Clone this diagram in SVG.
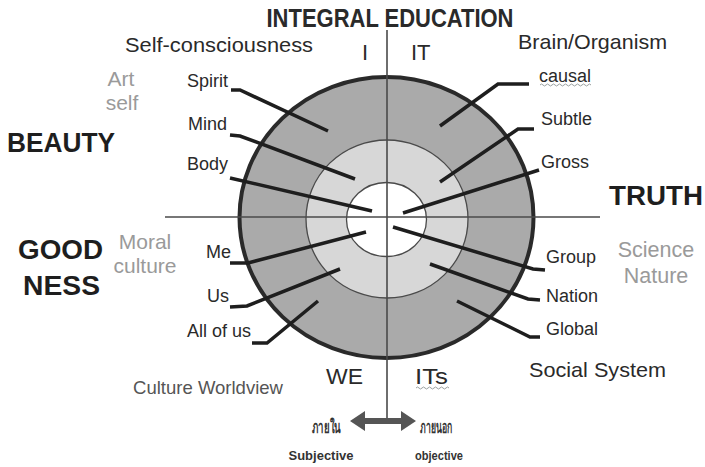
<svg xmlns="http://www.w3.org/2000/svg" width="705" height="467" viewBox="0 0 705 467">
<style>
text{font-family:"Liberation Sans",Arial,sans-serif;fill:#2a2a2a}
.lbl{font-size:18px}
.big{font-size:27px;font-weight:bold;fill:#1e1e1e}
.quad{font-size:22px}
.soft{font-size:21px;fill:#9a9a9a}
.lead{fill:none;stroke:#1e1e1e;stroke-width:3.5;stroke-linejoin:miter}
.axis{stroke:#4a4a4a;stroke-width:1.6}
.wavy{fill:none;stroke:#9aa0a0;stroke-width:1}
.thai{font-size:17px;font-weight:bold;fill:#333333}
</style>
<rect width="705" height="467" fill="#ffffff"/>
<g id="rings">
<ellipse cx="386.5" cy="217.5" rx="147" ry="140.5" fill="#aaaaaa" stroke="#2a2a2a" stroke-width="4"/>
<ellipse cx="387" cy="219" rx="81" ry="79" fill="#d7d7d7" stroke="#4a4a4a" stroke-width="1.3"/>
<ellipse cx="386.5" cy="219.5" rx="40" ry="37" fill="#ffffff" stroke="#4a4a4a" stroke-width="1.3"/>
</g>
<g id="axes">
<line class="axis" x1="165" y1="217" x2="600" y2="217"/>
<line class="axis" x1="387" y1="30" x2="387" y2="421"/>
</g>
<g id="connectors">
<polyline class="lead" points="231,90 240,90 328,131"/>
<polyline class="lead" points="230,135 240,136 355,179"/>
<polyline class="lead" points="230,178 372,211"/>
<polyline class="lead" points="230,263 248,263 366,232"/>
<polyline class="lead" points="230,307 247,306 340,269"/>
<polyline class="lead" points="252,343 267,343 318,301"/>
<polyline class="lead" points="529,84 498,84 440,126"/>
<polyline class="lead" points="534,129 518,129 440,182"/>
<polyline class="lead" points="539,170 403,213"/>
<polyline class="lead" points="393,227 533,269 545,270"/>
<polyline class="lead" points="430,264 528,299 540,300"/>
<polyline class="lead" points="457,301 530,337 540,337"/>
</g>
<g id="title"><text x="390" y="27" text-anchor="middle" style="font-size:25px;font-weight:bold" textLength="247" lengthAdjust="spacingAndGlyphs">INTEGRAL EDUCATION</text></g>
<g id="q-I"><text class="quad" x="365" y="60" text-anchor="middle">I</text></g>
<g id="q-IT"><text class="quad" x="411" y="60">IT</text></g>
<g id="q-WE"><text class="quad" x="326" y="384" textLength="37" lengthAdjust="spacingAndGlyphs">WE</text></g>
<g id="q-ITs"><text class="quad" x="415" y="384" textLength="33" lengthAdjust="spacingAndGlyphs">ITs</text>
<path class="wavy" d="M416,388 q1.5,-2 3,0 t3,0 t3,0 t3,0 t3,0 t3,0 t3,0 t3,0 t3,0 t3,0 t3,0"/></g>
<g id="self-consciousness"><text x="125" y="52" style="font-size:21px" textLength="188" lengthAdjust="spacingAndGlyphs">Self-consciousness</text></g>
<g id="brain-organism"><text x="518" y="49" style="font-size:21px" textLength="149" lengthAdjust="spacingAndGlyphs">Brain/Organism</text></g>
<g id="art-self"><text class="soft" x="121" y="86" text-anchor="middle">Art</text><text class="soft" x="122" y="110" text-anchor="middle">self</text></g>
<g id="moral-culture"><text class="soft" x="145" y="249" text-anchor="middle">Moral</text><text class="soft" x="145" y="273" text-anchor="middle">culture</text></g>
<g id="science-nature"><text class="soft" x="656" y="257" text-anchor="middle" style="font-size:21.5px">Science</text><text class="soft" x="656" y="283" text-anchor="middle" style="font-size:21.5px">Nature</text></g>
<g id="beauty"><text class="big" x="7" y="152" textLength="108" lengthAdjust="spacingAndGlyphs">BEAUTY</text></g>
<g id="goodness"><text class="big" x="18" y="259" textLength="85" lengthAdjust="spacingAndGlyphs">GOOD</text><text class="big" x="23" y="295" textLength="77" lengthAdjust="spacingAndGlyphs">NESS</text></g>
<g id="truth"><text class="big" x="609" y="205" textLength="94" lengthAdjust="spacingAndGlyphs">TRUTH</text></g>
<g id="spirit"><text class="lbl" x="187" y="87">Spirit</text></g>
<g id="mind"><text class="lbl" x="188" y="130">Mind</text></g>
<g id="body"><text class="lbl" x="187" y="170">Body</text></g>
<g id="me"><text class="lbl" x="206" y="258">Me</text></g>
<g id="us"><text class="lbl" x="207" y="302">Us</text></g>
<g id="all-of-us"><text class="lbl" x="187" y="337">All of us</text></g>
<g id="causal"><text class="lbl" x="539" y="82">causal</text>
<path class="wavy" d="M540,85 q1.5,-2 3,0 t3,0 t3,0 t3,0 t3,0 t3,0 t3,0 t3,0 t3,0 t3,0 t3,0 t3,0 t3,0 t3,0 t3,0 t3,0 t3,0"/></g>
<g id="subtle"><text class="lbl" x="541" y="125">Subtle</text></g>
<g id="gross"><text class="lbl" x="541" y="168">Gross</text></g>
<g id="group"><text class="lbl" x="546" y="263">Group</text></g>
<g id="nation"><text class="lbl" x="546" y="302">Nation</text></g>
<g id="global"><text class="lbl" x="546" y="335">Global</text></g>
<g id="social-system"><text x="529" y="377" style="font-size:21px" textLength="137" lengthAdjust="spacingAndGlyphs">Social System</text></g>
<g id="culture-worldview"><text x="133" y="394" style="font-size:18.5px;fill:#555555" textLength="150" lengthAdjust="spacingAndGlyphs">Culture Worldview</text></g>
<g id="arrow"><polygon points="350,421 365,411 365,418 401,418 401,411 416,421 401,431 401,424 365,424 365,431" fill="#555555"/></g>
<g id="inner-side"><text class="thai" x="312" y="433" textLength="29" lengthAdjust="spacingAndGlyphs">ภายใน</text>
<text x="321" y="460" text-anchor="middle" style="font-size:13px;font-weight:bold;fill:#333333" textLength="65" lengthAdjust="spacingAndGlyphs">Subjective</text></g>
<g id="outer-side"><text class="thai" x="420" y="433" textLength="32" lengthAdjust="spacingAndGlyphs">ภายนอก</text>
<text x="439" y="460" text-anchor="middle" style="font-size:13px;font-weight:bold;fill:#333333" textLength="48" lengthAdjust="spacingAndGlyphs">objective</text></g>
</svg>
